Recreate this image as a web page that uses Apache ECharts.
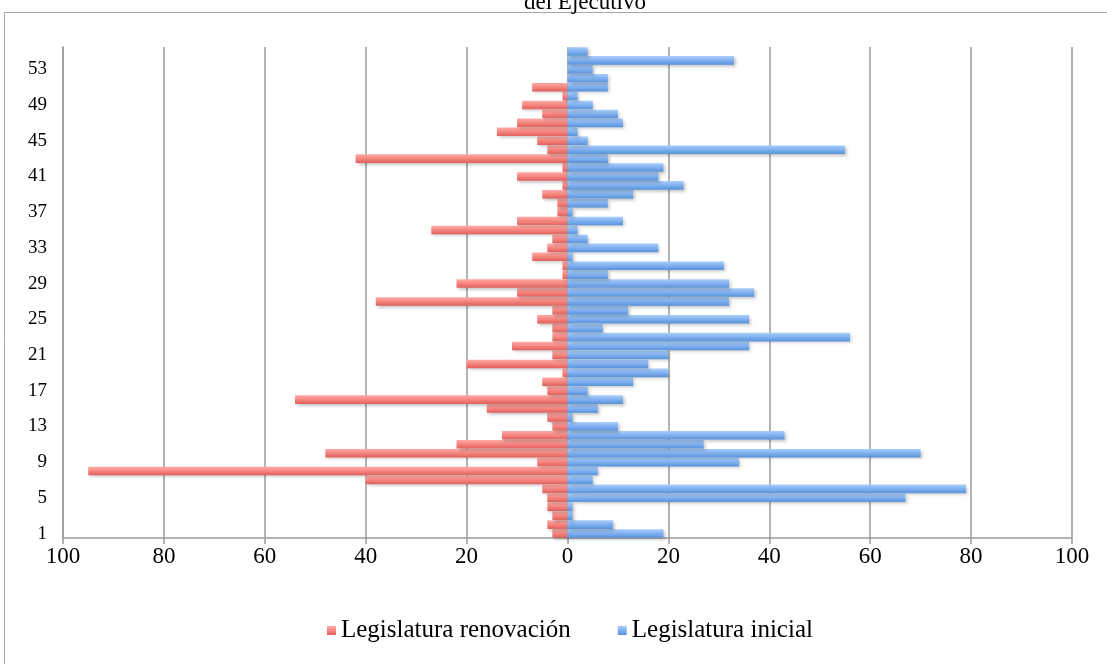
<!DOCTYPE html>
<html>
<head>
<meta charset="utf-8">
<style>
  html, body { margin: 0; padding: 0; background: #ffffff; }
  #chart { width: 1107px; height: 664px; }
</style>
<script src="https://cdn.jsdelivr.net/npm/echarts@6/dist/echarts.min.js"></script>
</head>
<body>
<div id="chart"></div>
<script>
// Categories 1..55 (bottom to top)
const categories = [
  '1','2','3','4','5','6','7','8','9','10',
  '11','12','13','14','15','16','17','18','19','20',
  '21','22','23','24','25','26','27','28','29','30',
  '31','32','33','34','35','36','37','38','39','40',
  '41','42','43','44','45','46','47','48','49','50',
  '51','52','53','54','55'
];

// Legislatura renovación (drawn to the left of zero)
const renovacion = [
  3, 4, 3, 4, 4, 5, 40, 95, 6, 48,
  22, 13, 3, 4, 16, 54, 4, 5, 1, 20,
  3, 11, 3, 3, 6, 3, 38, 10, 22, 1,
  1, 7, 4, 3, 27, 10, 2, 2, 5, 1,
  10, 1, 42, 4, 6, 14, 10, 5, 9, 1,
  7, 0, 0, 0, 0
];

// Legislatura inicial (drawn to the right of zero)
const inicial = [
  19, 9, 1, 1, 67, 79, 5, 6, 34, 70,
  27, 43, 10, 1, 6, 11, 4, 13, 20, 16,
  20, 36, 56, 7, 36, 12, 32, 37, 32, 8,
  31, 1, 18, 4, 2, 11, 1, 8, 13, 23,
  18, 19, 8, 55, 4, 2, 11, 10, 5, 2,
  8, 8, 5, 33, 4
];

const seriesNames = ['Legislatura renovación', 'Legislatura inicial'];
const titleText = 'del Ejecutivo';

const serif = '"Liberation Serif", "DejaVu Serif", serif';
const gridGray = '#9a9a9a';

// Vertical shading across each bar: light top edge, darker bottom edge
function grad(top, mid, bottom) {
  return new echarts.graphic.LinearGradient(0, 0, 0, 1, [
    { offset: 0, color: top },
    { offset: 0.5, color: mid },
    { offset: 1, color: bottom }
  ]);
}

const barShadow = {
  shadowColor: 'rgba(0,0,0,0.22)',
  shadowBlur: 3,
  shadowOffsetX: 2,
  shadowOffsetY: 2
};

const chart = echarts.init(document.getElementById('chart'), null, { renderer: 'canvas' });

chart.setOption({
  animation: false,
  backgroundColor: '#ffffff',
  title: {
    text: titleText,
    left: 519,
    top: -14,
    textStyle: { fontFamily: serif, fontSize: 23, fontWeight: 'normal', color: '#000' }
  },
  graphic: [{
    type: 'rect',
    shape: { x: 4.5, y: 12.5, width: 1200, height: 700 },
    style: { fill: 'none', stroke: '#a6a6a6', lineWidth: 1 },
    silent: true,
    z: -1
  }],
  legend: {
    top: 613,
    left: 322,
    itemWidth: 9,
    itemHeight: 9,
    itemGap: 47,
    icon: 'rect',
    data: seriesNames,
    textStyle: { fontFamily: serif, fontSize: 25, color: '#000', padding: [0, 0, 8, 0] }
  },
  grid: { left: 63, right: 35, top: 47, bottom: 126, containLabel: false },
  xAxis: {
    type: 'value',
    min: -100,
    max: 100,
    interval: 20,
    axisLine: { show: true, lineStyle: { color: gridGray, width: 1.5 } },
    axisTick: { show: true, length: 6, lineStyle: { color: gridGray, width: 1.5 } },
    axisLabel: {
      fontFamily: serif, fontSize: 23, color: '#000', margin: 7,
      formatter: v => String(Math.abs(v))
    },
    splitLine: { show: true, lineStyle: { color: gridGray, width: 1.5 } }
  },
  yAxis: {
    type: 'category',
    data: categories,
    axisLine: { show: true, onZero: false, lineStyle: { color: gridGray, width: 1.5 } },
    axisTick: { show: false },
    axisLabel: { interval: 3, fontFamily: serif, fontSize: 19, color: '#000', margin: 16 },
    splitLine: { show: false }
  },
  series: [
    {
      name: seriesNames[0],
      type: 'bar',
      barGap: '-100%',
      barCategoryGap: '4%',
      data: renovacion.map(v => -v),
      itemStyle: Object.assign({ color: grad('#ffaaa7', '#f5857f', '#e0605b') }, barShadow),
      z: 3
    },
    {
      name: seriesNames[1],
      type: 'bar',
      barGap: '-100%',
      barCategoryGap: '4%',
      data: inicial,
      itemStyle: Object.assign({ color: grad('#a8cdfb', '#80b0ef', '#5793db') }, barShadow),
      z: 3
    }
  ]
});
</script>
</body>
</html>
